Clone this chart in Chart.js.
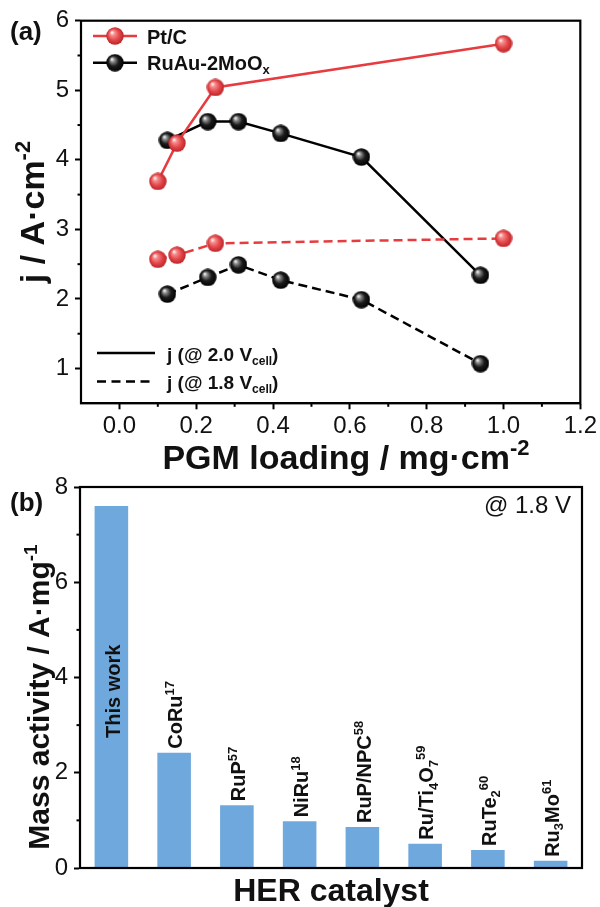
<!DOCTYPE html>
<html>
<head>
<meta charset="utf-8">
<script src="https://cdn.jsdelivr.net/npm/chart.js@4.4.0/dist/chart.umd.min.js"></script>
<style>
  html, body { margin: 0; padding: 0; background: #fff; }
  body { width: 600px; height: 907px; position: relative; overflow: hidden; }
  #panelA { position: absolute; left: 0; top: 0; }
  #panelB { position: absolute; left: 0; top: 460px; }
</style>
</head>
<body>
<canvas id="panelA" width="600" height="480"></canvas>
<canvas id="panelB" width="600" height="447"></canvas>
<script>
// ---------- Panel (a): current density vs. PGM loading ----------
const loadingPt   = [0.10, 0.15, 0.25, 1.00];
const ptAt20V     = [3.69, 4.24, 5.04, 5.67];
const ptAt18V     = [2.57, 2.63, 2.80, 2.87];
const loadingRuAu = [0.125, 0.23, 0.31, 0.42, 0.63, 0.94];
const ruAuAt20V   = [4.28, 4.55, 4.55, 4.38, 4.04, 2.34];
const ruAuAt18V   = [2.07, 2.31, 2.49, 2.27, 1.99, 1.07];
const loadingTicks = [0.0, 0.2, 0.4, 0.6, 0.8, 1.0, 1.2];
const currentTicks = [1, 2, 3, 4, 5, 6];

// ---------- Panel (b): HER mass activity @ 1.8 V ----------
const catalysts = ['This work', 'CoRu^{17}', 'RuP^{57}', 'NiRu^{18}', 'RuP/NPC^{58}',
                   'Ru/Ti_{4}O_{7}^{59}', 'RuTe_{2}^{60}', 'Ru_{3}Mo^{61}'];
const massActivity = [7.60, 2.42, 1.32, 0.98, 0.86, 0.51, 0.38, 0.15];
const massTicks = [0, 2, 4, 6, 8];

const FAMILY = '"Liberation Sans", Arial, Helvetica, sans-serif';
const RED = '#e63b3f';
const BLUE = '#6fa8dc';
const INK = '#111';

// rich text: ^{...} superscript, _{...} subscript
function parseRich(str) {
  const out = []; const re = /([_^])\{([^}]*)\}/g; let last = 0, m;
  while ((m = re.exec(str))) {
    if (m.index > last) out.push({ t: str.slice(last, m.index), k: 'n' });
    out.push({ t: m[2], k: m[1] === '^' ? 'sup' : 'sub' });
    last = re.lastIndex;
  }
  if (last < str.length) out.push({ t: str.slice(last), k: 'n' });
  return out;
}
function drawRich(ctx, str, x, y, o) {
  const segs = parseRich(str);
  const weight = o.weight || 'normal';
  const fN = `${weight} ${o.size}px ${FAMILY}`;
  const fS = `${weight} ${Math.round(o.size * 0.64)}px ${FAMILY}`;
  let w = 0;
  segs.forEach(s => { ctx.font = s.k === 'n' ? fN : fS; s.w = ctx.measureText(s.t).width; w += s.w; });
  let cx = o.align === 'center' ? x - w / 2 : (o.align === 'right' ? x - w : x);
  ctx.fillStyle = o.color || INK;
  ctx.textAlign = 'left';
  ctx.textBaseline = 'alphabetic';
  segs.forEach(s => {
    ctx.font = s.k === 'n' ? fN : fS;
    const dy = s.k === 'sup' ? -o.size * 0.40 : (s.k === 'sub' ? o.size * 0.22 : 0);
    ctx.fillText(s.t, cx, y + dy);
    cx += s.w;
  });
  return w;
}

// shaded ball markers
function makeBall(d, stops) {
  const c = document.createElement('canvas');
  c.width = d; c.height = d;
  const g = c.getContext('2d');
  const r = d / 2;
  const grad = g.createRadialGradient(r - r * 0.35, r - r * 0.4, r * 0.05, r, r, r);
  stops.forEach(([p, col]) => grad.addColorStop(p, col));
  g.fillStyle = grad;
  g.beginPath(); g.arc(r, r, r - 0.3, 0, Math.PI * 2); g.fill();
  return c;
}
const ballRed = makeBall(18, [[0, '#fff1f1'], [0.22, '#f58d8d'], [0.6, '#e4474a'], [1, '#b82328']]);
const ballBlack = makeBall(18, [[0, '#f2f2f2'], [0.2, '#8a8a8a'], [0.55, '#1c1c1c'], [1, '#000']]);

const pts = (xs, ys) => xs.map((x, i) => ({ x, y: ys[i] }));
const mids = t => t.slice(1).map((v, i) => (v + t[i]) / 2);

// frame, minor ticks and annotation text
const decor = {
  id: 'decor',
  afterDraw(chart, args, opts) {
    const { ctx, chartArea: a, scales } = chart;
    ctx.save();
    ctx.strokeStyle = '#000'; ctx.lineWidth = 2;
    (opts.minorX || []).forEach(v => {
      const px = scales.x.getPixelForValue(v);
      ctx.beginPath(); ctx.moveTo(px, a.bottom); ctx.lineTo(px, a.bottom + 3.5); ctx.stroke();
    });
    (opts.minorY || []).forEach(v => {
      const py = scales.y.getPixelForValue(v);
      ctx.beginPath(); ctx.moveTo(a.left, py); ctx.lineTo(a.left - 3.5, py); ctx.stroke();
    });
    ctx.lineWidth = 2.2;
    ctx.strokeRect(a.left, a.top, a.right - a.left, a.bottom - a.top);
    if (opts.draw) opts.draw(ctx, a, scales);
    ctx.restore();
  }
};

// ---------- Panel (a) ----------
const A_LEFT = 81, A_TOP = 20.7, A_RIGHT = 582, A_BOTTOM = 403.3, A_H = 480;
const tickFont = { family: FAMILY, size: 24 };
const axisGrid = { display: true, drawOnChartArea: false, drawTicks: true, tickLength: 6, tickWidth: 2, tickColor: '#000' };
const axisBorder = { display: true, color: '#000', width: 2 };

new Chart(document.getElementById('panelA'), {
  type: 'scatter',
  data: {
    datasets: [
      { label: 'Pt/C 2.0 V', data: pts(loadingPt, ptAt20V), borderColor: RED, borderWidth: 2.5,
        pointStyle: ballRed, pointRadius: 9, showLine: true, order: 0 },
      { label: 'Pt/C 1.8 V', data: pts(loadingPt, ptAt18V), borderColor: RED, borderWidth: 2.5,
        borderDash: [9, 5], pointStyle: ballRed, pointRadius: 9, showLine: true, order: 1 },
      { label: 'RuAu-2MoOx 2.0 V', data: pts(loadingRuAu, ruAuAt20V), borderColor: '#000', borderWidth: 2.5,
        pointStyle: ballBlack, pointRadius: 9, showLine: true, order: 2 },
      { label: 'RuAu-2MoOx 1.8 V', data: pts(loadingRuAu, ruAuAt18V), borderColor: '#000', borderWidth: 2.5,
        borderDash: [9, 5], pointStyle: ballBlack, pointRadius: 9, showLine: true, order: 3 }
    ]
  },
  options: {
    responsive: false, animation: false, devicePixelRatio: 1,
    layout: { padding: { top: A_TOP, right: 600 - A_RIGHT, left: 0, bottom: 0 } },
    scales: {
      x: {
        type: 'linear', min: -0.1, max: 1.2,
        afterBuildTicks: s => { s.ticks = loadingTicks.map(v => ({ value: v })); },
        afterFit: s => { s.height = A_H - A_BOTTOM; },
        ticks: { callback: v => Number(v).toFixed(1), font: tickFont, color: INK, padding: 3,
                 maxRotation: 0, autoSkip: false },
        grid: axisGrid, border: axisBorder
      },
      y: {
        type: 'linear', min: 0.5, max: 6,
        afterBuildTicks: s => { s.ticks = currentTicks.map(v => ({ value: v })); },
        afterFit: s => { s.width = A_LEFT; },
        ticks: { callback: v => String(v), font: tickFont, color: INK, padding: 6 },
        grid: axisGrid, border: axisBorder
      }
    },
    plugins: {
      legend: { display: false }, tooltip: { enabled: false },
      decor: {
        minorX: mids(loadingTicks), minorY: mids(currentTicks),
        draw(ctx, a) {
          drawRich(ctx, '(a)', 10, 40, { size: 26, weight: 'bold' });
          drawRich(ctx, 'PGM loading / mg·cm^{-2}', 346, 469, { size: 34, weight: 'bold', align: 'center' });
          ctx.save(); ctx.translate(44, (a.top + a.bottom) / 2); ctx.rotate(-Math.PI / 2);
          drawRich(ctx, 'j / A·cm^{-2}', 0, 0, { size: 34, weight: 'bold', align: 'center' });
          ctx.restore();
          // series legend
          const leg = [[RED, ballRed, 'Pt/C', 36, 44], ['#000', ballBlack, 'RuAu-2MoO_{x}', 62.7, 70]];
          leg.forEach(([col, ball, txt, ly, by]) => {
            ctx.strokeStyle = col; ctx.lineWidth = 2.5; ctx.setLineDash([]);
            ctx.beginPath(); ctx.moveTo(93, ly); ctx.lineTo(137, ly); ctx.stroke();
            ctx.drawImage(ball, 115 - 9, ly - 9);
            drawRich(ctx, txt, 147, by, { size: 20, weight: 'bold' });
          });
          // line-style legend
          const leg2 = [[[], 'j (@ 2.0 V_{cell})', 353, 360.5], [[9, 5.5], 'j (@ 1.8 V_{cell})', 381.5, 389]];
          leg2.forEach(([dash, txt, ly, by]) => {
            ctx.strokeStyle = '#000'; ctx.lineWidth = 2.5; ctx.setLineDash(dash);
            ctx.beginPath(); ctx.moveTo(97, ly); ctx.lineTo(155, ly); ctx.stroke();
            ctx.setLineDash([]);
            drawRich(ctx, txt, 167, by, { size: 19, weight: 'bold' });
          });
        }
      }
    }
  },
  plugins: [decor]
});

// ---------- Panel (b) ----------
const B_LEFT = 80, B_TOP = 27, B_RIGHT = 582, B_BOTTOM = 408, B_H = 447;

const barLabels = {
  id: 'barLabels',
  afterDatasetsDraw(chart) {
    const { ctx } = chart;
    const meta = chart.getDatasetMeta(0);
    const base = chart.scales.y.getPixelForValue(0);
    const size = 20, cap = size * 0.716;
    meta.data.forEach((bar, i) => {
      const start = i === 0 ? base - 130 : bar.y - 4;
      ctx.save(); ctx.translate(bar.x + 1, start); ctx.rotate(-Math.PI / 2);
      drawRich(ctx, chart.data.labels[i], 0, cap / 2, { size, weight: 'bold' });
      ctx.restore();
    });
  }
};

new Chart(document.getElementById('panelB'), {
  type: 'bar',
  data: {
    labels: catalysts,
    datasets: [{ label: 'Mass activity', data: massActivity, backgroundColor: BLUE, borderWidth: 0,
                 barPercentage: 0.535, categoryPercentage: 1 }]
  },
  options: {
    responsive: false, animation: false, devicePixelRatio: 1,
    layout: { padding: { top: B_TOP, right: 600 - B_RIGHT, left: 0, bottom: 0 } },
    scales: {
      x: {
        type: 'category', offset: true,
        afterFit: s => { s.height = B_H - B_BOTTOM; },
        ticks: { display: false },
        grid: { display: false, drawTicks: false }, border: axisBorder
      },
      y: {
        type: 'linear', min: 0, max: 8,
        afterBuildTicks: s => { s.ticks = massTicks.map(v => ({ value: v })); },
        afterFit: s => { s.width = B_LEFT; },
        ticks: { callback: v => String(v), font: tickFont, color: INK, padding: 6 },
        grid: axisGrid, border: axisBorder
      }
    },
    plugins: {
      legend: { display: false }, tooltip: { enabled: false },
      decor: {
        minorY: mids(massTicks),
        draw(ctx, a) {
          drawRich(ctx, '(b)', 10, 51, { size: 26, weight: 'bold' });
          drawRich(ctx, '@ 1.8 V', 571, 53, { size: 24, align: 'right' });
          drawRich(ctx, 'HER catalyst', (a.left + a.right) / 2, 441, { size: 32, weight: 'bold', align: 'center' });
          ctx.save(); ctx.translate(49, 237); ctx.rotate(-Math.PI / 2);
          drawRich(ctx, 'Mass activity / A·mg^{-1}', 0, 0, { size: 30, weight: 'bold', align: 'center' });
          ctx.restore();
        }
      }
    }
  },
  plugins: [barLabels, decor]
});
</script>
</body>
</html>
